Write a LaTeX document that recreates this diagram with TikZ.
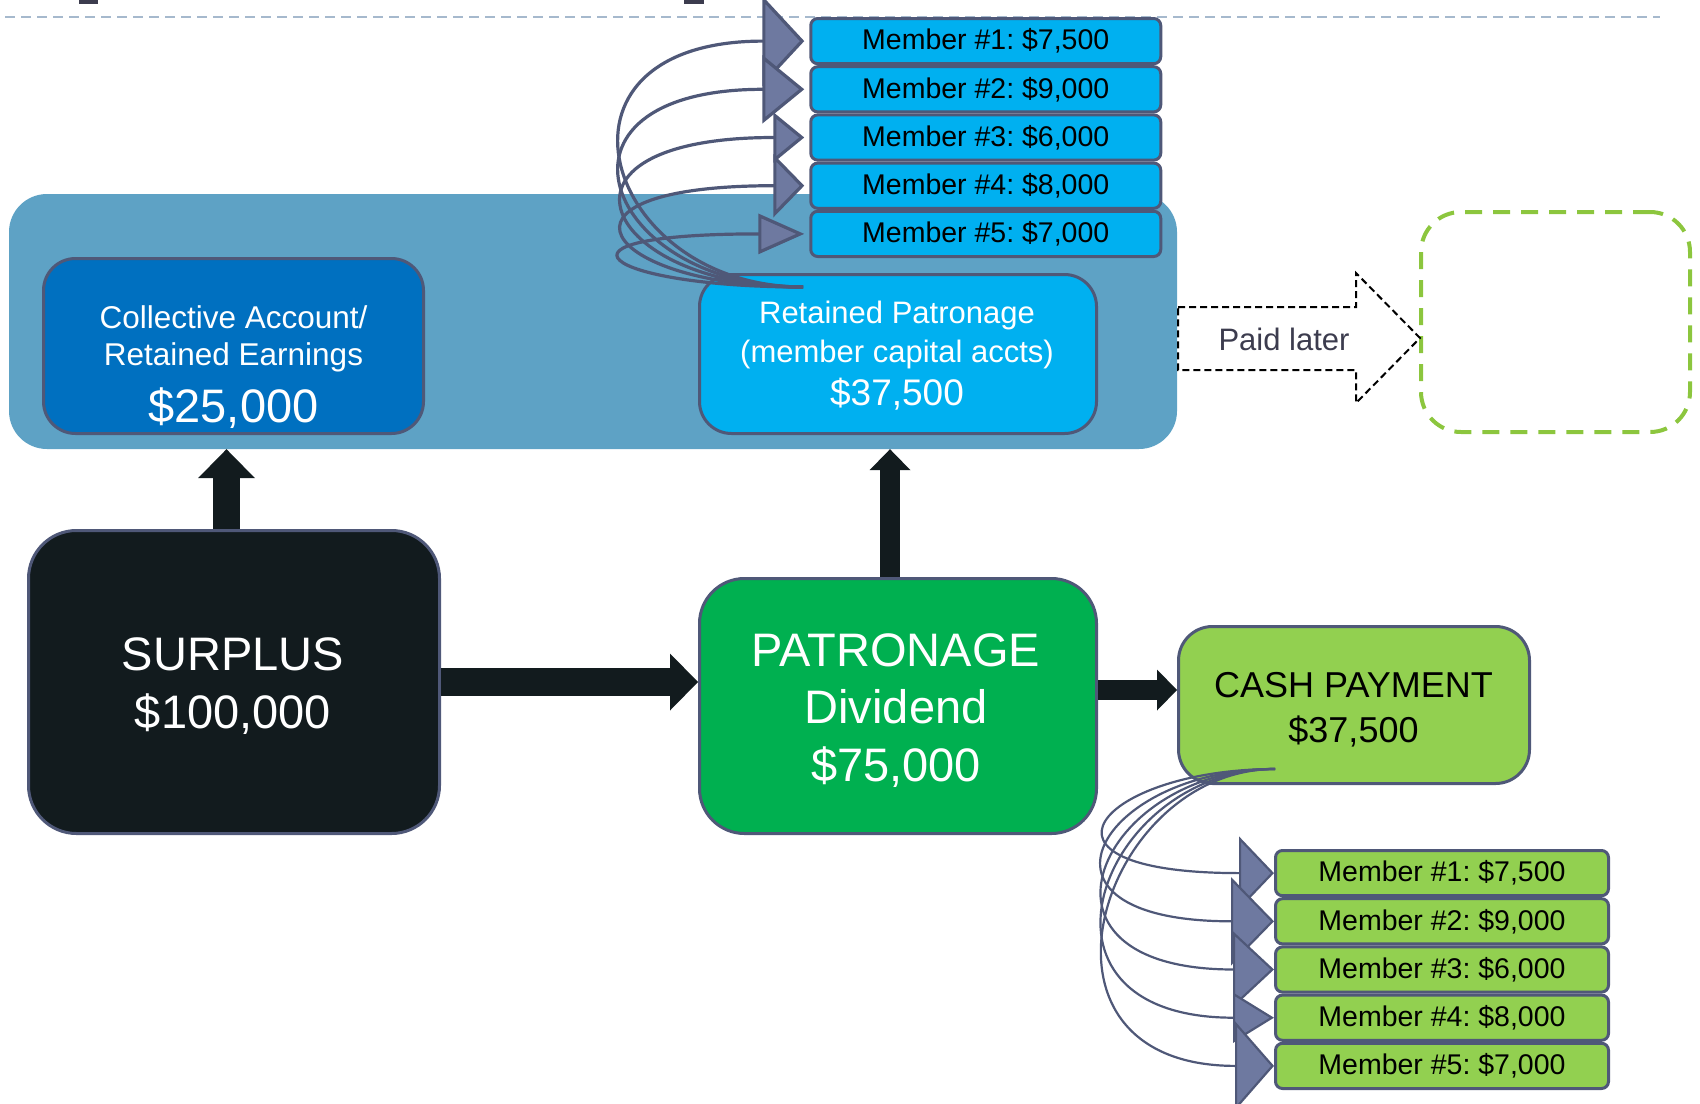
\documentclass[tikz,border=0pt]{standalone}
\usepackage{fontspec}
\setmainfont{Liberation Sans}
\usetikzlibrary{arrows.meta,calc}
\definecolor{edgeslate}{HTML}{4F5878}
\definecolor{tipslate}{HTML}{6E79A0}
\definecolor{panelblue}{HTML}{5EA2C5}
\definecolor{collblue}{HTML}{0070C0}
\definecolor{skyblue}{HTML}{00B0F0}
\definecolor{inkdark}{HTML}{121B1E}
\definecolor{patgreen}{HTML}{00B050}
\definecolor{cashgreen}{HTML}{92D050}
\definecolor{latergreen}{HTML}{8CC63E}
\definecolor{rulegray}{HTML}{A6B9CD}
\definecolor{paidgray}{HTML}{3C3C4E}
\frenchspacing

\begin{document}
\begin{tikzpicture}[x=1pt,y=1pt,yscale=-1,xscale=1,
    acct/.style={draw=edgeslate, line width=3pt, inner sep=0pt},
    member/.style={acct, fill=#1, rounded corners=7pt, minimum height=45.2pt, font=\fontsize{28.5}{34}\selectfont},
    wtxt/.style={anchor=base, inner sep=0pt, text=white, font=\fontsize{#1}{#1}\selectfont},
    btxt/.style={wtxt=#1, text=black},
    fat/.style={draw=inkdark, line width=#1},
    curvy/.style={draw=edgeslate, line width=#1}]
            \useasboundingbox (0,0) rectangle (1700,1103);

            %Straight Lines
            \draw [rulegray, line width=2.5pt, dash pattern=on 10pt off 6pt] (5,17) -- (1660,17);
            %Shape: Rectangle
            \fill [paidgray] (79,0) rectangle (98,4);
            \fill [paidgray] (684,0) rectangle (704,4);

            %Shape: Rounded Rect
            \node [fill=panelblue, rounded corners=38pt, minimum width=1168pt, minimum height=255pt, inner sep=0pt] (panel) at (593,321.5) {};
            %Shape: Rounded Rect
            \node [acct, fill=collblue, rounded corners=32pt, minimum width=380pt, minimum height=175pt] (coll) at (233.5,346) {};
            %Shape: Rounded Rect
            \node [acct, fill=skyblue, rounded corners=32pt, minimum width=397pt, minimum height=159pt] (retained) at (898,354) {};

            % Text Node
            \node [wtxt=31.5] (collA) at (233.5,328) {Collective Account/};
            % Text Node
            \node [wtxt=31.5] (collB) at (233.5,365) {Retained Earnings};
            % Text Node
            \node [wtxt=47] (collC) at (233.5,422) {\$25,000};
            % Text Node
            \node [wtxt=31] (retA) at (897,323) {Retained Patronage};
            % Text Node
            \node [wtxt=31] (retB) at (897,362) {(member capital accts)};
            % Text Node
            \node [wtxt=37] (retC) at (897,405) {\$37,500};

            %Shape: Rounded Rect
            \foreach \i/\y/\amt in {1/41.1/{7,500}, 2/89.3/{9,000}, 3/137.5/{6,000}, 4/185.7/{8,000}, 5/233.9/{7,000}}
              \node [member=skyblue, minimum width=350pt] (tm\i) at (985.75,\y) {Member \#\i: \$\amt};

            %Curve Lines
            \coordinate (toproot) at (803,287);
            \foreach \i/\len/\wid in {1/42/90, 2/42/68, 3/31/50, 4/31/63, 5/46/40}
              \draw [curvy=3.2pt, shorten >=5pt, -{Triangle[length=\len pt, width=\wid pt, fill=tipslate]}] (toproot) .. controls +(-200,0) and +(-280,0) .. (tm\i.west);

            %Shape: Rounded Rect
            \node [acct, fill=inkdark, rounded corners=48pt, minimum width=411pt, minimum height=303pt] (surplus) at (234,682) {};
            %Shape: Rounded Rect
            \node [acct, fill=patgreen, rounded corners=45pt, minimum width=397pt, minimum height=255pt] (patronage) at (898,706) {};
            %Shape: Rounded Rect
            \node [acct, fill=cashgreen, rounded corners=34pt, minimum width=351pt, minimum height=157pt] (cash) at (1354,705) {};

            % Text Node
            \node [wtxt=47] (surA) at (233,670) {SURPLUS};
            % Text Node
            \node [wtxt=47] (surB) at (233,728) {\$100,000};
            % Text Node
            \node [wtxt=47] (patA) at (896,666) {PATRONAGE};
            % Text Node
            \node [wtxt=47] (patB) at (896,723) {Dividend};
            % Text Node
            \node [wtxt=47] (patC) at (896,781) {\$75,000};
            % Text Node
            \node [btxt=36] (cashA) at (1353.5,697) {CASH PAYMENT};
            % Text Node
            \node [btxt=36] (cashB) at (1353.5,742) {\$37,500};

            %Straight Lines
            \coordinate (s1) at ($(surplus.north)+(-7.5,0)$);
            \draw [fat=27pt, -{Triangle[length=29pt, width=57pt, line width=0pt]}] (s1) -- (s1 |- panel.south);
            %Straight Lines
            \coordinate (s2) at (surplus.east);
            \draw [fat=28pt, -{Triangle[length=28pt, width=57pt, line width=0pt]}] (s2) -- (s2 -| patronage.west);
            %Straight Lines
            \coordinate (p1) at ($(patronage.north)+(-8,0)$);
            \draw [fat=20pt, -{Triangle[length=21pt, width=41pt, line width=0pt]}] (p1) -- (p1 |- panel.south);
            %Straight Lines
            \coordinate (p2) at ($(patronage.east)+(0,-16)$);
            \draw [fat=20pt, -{Triangle[length=20pt, width=41pt, line width=0pt]}] (p2) -- (p2 -| cash.west);

            %Shape: Rounded Rect
            \foreach \i/\y/\amt in {1/873.1/{7,500}, 2/921.3/{9,000}, 3/969.5/{6,000}, 4/1017.7/{8,000}, 5/1065.9/{7,000}}
              \node [member=cashgreen, minimum width=333pt] (bm\i) at (1442,\y) {Member \#\i: \$\amt};

            %Curve Lines
            \coordinate (cashroot) at (1275,769);
            \foreach \i/\len/\wid in {1/35/73, 2/43/88, 3/41/76, 4/41/50, 5/39/89}
              \draw [curvy=2.2pt, -{Triangle[length=\len pt, width=\wid pt, fill=tipslate]}] (cashroot) .. controls +(-175,0) and +(-265,0) .. (bm\i.west);

            %Shape: Rounded Rect
            \node [draw=latergreen, line width=4pt, dash pattern=on 17pt off 11pt, rounded corners=40pt, minimum width=269pt, minimum height=220pt] (later) at (1555.5,322) {};

            %Shape: Block Arrow
            \draw [black, line width=2pt, dash pattern=on 7pt off 4pt, fill=white] (1178,307) -- (1356,307) -- (1356,273) -- (1420,338) -- (1356,403) -- (1356,370) -- (1178,370) -- cycle;
            % Text Node
            \node [btxt=31, text=paidgray] (paid) at (1284,350) {Paid later};

\end{tikzpicture}
\end{document}
